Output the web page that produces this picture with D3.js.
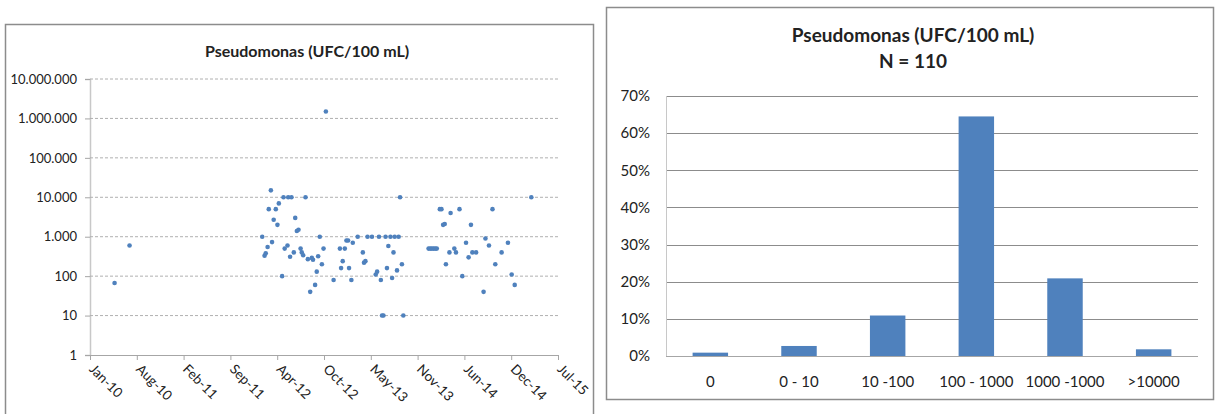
<!DOCTYPE html>
<html>
<head>
<meta charset="utf-8">
<script src="https://cdn.jsdelivr.net/npm/d3@7"></script>
<style>
  body { margin: 0; background: #fff; }
  svg { display: block; font-family: Lato, "Liberation Sans", sans-serif; }
</style>
</head>
<body>
<svg id="chart" width="1219" height="414"></svg>
<script>
// Sampling dates and Pseudomonas counts (UFC/100 mL)
const sampleDates = [
  "2010-05-07","2010-07-10",
  "2012-01-28","2012-02-07","2012-02-12","2012-02-20","2012-02-25","2012-03-05","2012-03-10","2012-03-17",
  "2012-03-26","2012-04-02","2012-04-08","2012-04-22","2012-04-28","2012-05-03","2012-05-15","2012-05-18",
  "2012-05-26","2012-06-01","2012-06-11","2012-06-17","2012-06-24","2012-07-01","2012-07-10","2012-07-15",
  "2012-07-21","2012-07-31","2012-08-10","2012-08-20","2012-08-27","2012-09-01","2012-09-10","2012-09-17",
  "2012-09-23","2012-09-30","2012-10-09","2012-10-16","2012-10-26","2012-11-28","2012-12-25","2012-12-30",
  "2013-01-06","2013-01-15","2013-01-22","2013-01-29","2013-02-02","2013-02-12","2013-02-18","2013-03-11",
  "2013-04-02","2013-04-07","2013-04-13","2013-04-22","2013-05-11","2013-05-27","2013-06-02","2013-06-10",
  "2013-06-18","2013-06-23","2013-06-29","2013-07-08","2013-07-14","2013-07-20","2013-07-29","2013-08-05",
  "2013-08-11","2013-08-16","2013-08-26","2013-09-02","2013-09-08","2013-09-16","2013-09-22",
  "2014-01-08","2014-01-15","2014-01-22","2014-01-29","2014-02-05","2014-02-12","2014-02-25","2014-03-04",
  "2014-03-11","2014-03-18","2014-03-23","2014-04-07","2014-04-12","2014-04-28","2014-05-05","2014-05-20",
  "2014-06-01","2014-06-17","2014-06-28","2014-07-08","2014-07-14","2014-07-30","2014-08-31","2014-09-08",
  "2014-09-23","2014-10-08","2014-10-20","2014-11-16","2014-12-13","2014-12-29","2015-01-11","2015-03-23"
];
const cfuValues = [
  67, 600,
  1000, 330, 380, 550, 5000, 15000, 730, 2700,
  5000, 2000, 7000, 100, 10000, 500, 600, 10000,
  310, 10000, 400, 3000, 1400, 1500, 500, 400,
  340, 10000, 270, 40, 290, 260, 60, 130,
  320, 1000, 200, 500, 1500000, 80, 500, 160,
  240, 500, 800, 800, 160, 80, 700, 1000,
  400, 220, 240, 1000, 1000, 110, 130, 1000,
  80, 10, 10, 1000, 160, 580, 1000, 90,
  400, 1000, 140, 1000, 10000, 200, 10,
  500, 500, 500, 500, 500, 500, 5000, 5000,
  2000, 2100, 200, 400, 4000, 500, 400, 5000,
  100, 700, 300, 2000, 400, 400, 40, 900,
  600, 5000, 200, 400, 700, 110, 60, 10000
];
const dateTickLabels = ["Jan-10","Aug-10","Feb-11","Sep-11","Apr-12","Oct-12","May-13","Nov-13","Jun-14","Dec-14","Jul-15"];
const logTickValues = [1, 10, 100, 1000, 10000, 100000, 1000000, 10000000];

// Distribution of counts by range
const rangeLabels = ["0", "0 - 10", "10 -100", "100 - 1000", "1000 -1000", ">10000"];
const rangeShares = [0.009, 0.027, 0.109, 0.645, 0.209, 0.018];
const shareTicks = [0, 0.1, 0.2, 0.3, 0.4, 0.5, 0.6, 0.7];

const svg = d3.select("#chart");
const blue = "#4f81bd";
const frameColor = "#8c8c8c";
const textColor = "#222";
const font = "Lato, 'Liberation Sans', sans-serif";

// ---------- left panel: time series on a log scale ----------
svg.append("rect").attr("x", 5.5).attr("y", 24.5).attr("width", 588).attr("height", 400)
  .attr("fill", "#fff").attr("stroke", frameColor).attr("stroke-width", 1.5);

const parse = d3.utcParse("%Y-%m-%d");
const axisStart = Date.UTC(2010, 0, 22);
const tickStep = 200;
const x = d3.scaleUtc()
  .domain([new Date(axisStart), d3.utcDay.offset(new Date(axisStart), tickStep * (dateTickLabels.length - 1))])
  .range([90, 558]);
const y = d3.scaleLog().domain([1, 1e7]).range([355, 79]);
const dotted = d3.formatLocale({ decimal: ",", thousands: ".", grouping: [3], currency: ["", ""] }).format(",d");

const left = svg.append("g");
left.append("text").attr("x", 307).attr("y", 57).attr("text-anchor", "middle")
  .attr("font-size", 16).attr("font-weight", 700).attr("fill", textColor)
  .text("Pseudomonas  (UFC/100 mL)");

const yAxisL = d3.axisLeft(y).tickValues(logTickValues).tickFormat(dotted).tickSize(5).tickPadding(8);
const gyL = left.append("g").attr("transform", "translate(90,0)").call(yAxisL);
gyL.select(".domain").attr("stroke", "#c8c8c8").attr("stroke-width", 1.5);
gyL.selectAll(".tick line").attr("stroke", "#a6a6a6");
gyL.selectAll(".tick text").attr("font-size", 13).attr("fill", textColor).attr("font-family", font);

// dashed horizontal gridlines
left.append("g").selectAll("line").data(logTickValues.slice(1)).join("line")
  .attr("x1", 90).attr("x2", 558).attr("y1", d => y(d)).attr("y2", d => y(d))
  .attr("stroke", "#b0b0b0").attr("stroke-dasharray", "3,2").attr("stroke-width", 1);

const dateTicks = dateTickLabels.map((_, i) => d3.utcDay.offset(new Date(axisStart), tickStep * i));
const xAxisL = d3.axisBottom(x).tickValues(dateTicks).tickFormat((d, i) => dateTickLabels[i]).tickSize(5).tickSizeOuter(0);
const gxL = left.append("g").attr("transform", "translate(0,355)").call(xAxisL);
gxL.select(".domain").attr("stroke", "#a6a6a6");
gxL.selectAll(".tick line").attr("stroke", "#a6a6a6");
gxL.selectAll(".tick text")
  .attr("font-size", 13.5).attr("fill", textColor).attr("font-family", font)
  .attr("text-anchor", "start").attr("dy", 0).attr("y", 0)
  .attr("transform", "translate(-2,15) rotate(45)");

left.append("g").selectAll("circle").data(sampleDates.map((d, i) => ({ date: parse(d), v: cfuValues[i] })))
  .join("circle")
  .attr("cx", d => x(d.date)).attr("cy", d => y(d.v)).attr("r", 2.3)
  .attr("fill", blue);

// ---------- right panel: share of samples by range ----------
svg.append("rect").attr("x", 606.5).attr("y", 7.5).attr("width", 607).attr("height", 392)
  .attr("fill", "#fff").attr("stroke", frameColor).attr("stroke-width", 1.5);

const right = svg.append("g");
right.append("text").attr("x", 913).attr("y", 42).attr("text-anchor", "middle")
  .attr("font-size", 19).attr("font-weight", 700).attr("fill", textColor)
  .text("Pseudomonas  (UFC/100 mL)");
right.append("text").attr("x", 913).attr("y", 68).attr("text-anchor", "middle")
  .attr("font-size", 19).attr("font-weight", 700).attr("fill", textColor)
  .text("N = 110");

const xb = d3.scaleBand().domain(rangeLabels).range([666, 1198]).padding(0);
const yb = d3.scaleLinear().domain([0, 0.7]).range([356, 96]);

right.append("g").selectAll("line").data(shareTicks).join("line")
  .attr("x1", 666).attr("x2", 1198).attr("y1", d => Math.round(yb(d)) + 0.5).attr("y2", d => Math.round(yb(d)) + 0.5)
  .attr("stroke", d => d === 0 ? "#a6a6a6" : "#8c8c8c").attr("stroke-width", 1);
right.append("line").attr("x1", 666.5).attr("x2", 666.5).attr("y1", yb(0.7)).attr("y2", yb(0))
  .attr("stroke", "#c8c8c8");

const yAxisR = d3.axisLeft(yb).tickValues(shareTicks).tickFormat(d3.format(".0%")).tickSize(0).tickPadding(16);
const gyR = right.append("g").attr("transform", "translate(666,0)").call(yAxisR);
gyR.select(".domain").remove();
gyR.selectAll(".tick text").attr("font-size", 15).attr("fill", textColor).attr("font-family", font);

const barW = xb.bandwidth() * 0.4;
right.append("g").selectAll("rect").data(rangeLabels.map((c, i) => ({ c, v: rangeShares[i] })))
  .join("rect")
  .attr("x", d => xb(d.c) + (xb.bandwidth() - barW) / 2).attr("width", barW)
  .attr("y", d => yb(d.v)).attr("height", d => yb(0) - yb(d.v))
  .attr("fill", blue);

const xAxisR = d3.axisBottom(xb).tickSize(0).tickPadding(20);
const gxR = right.append("g").attr("transform", "translate(0,356)").call(xAxisR);
gxR.select(".domain").remove();
gxR.selectAll(".tick text").attr("font-size", 15).attr("fill", textColor).attr("font-family", font);
</script>
</body>
</html>
